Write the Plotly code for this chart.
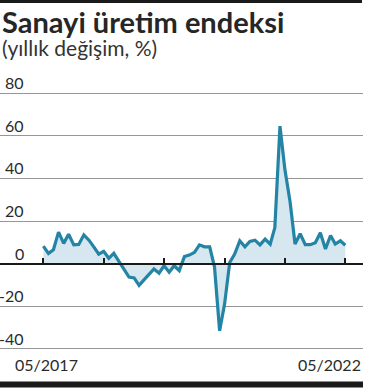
import pandas as pd
import plotly.graph_objects as go

# ---- data ----
start_month = "2017-05-01"
values = [8.2, 4.8, 6.5, 14.8, 9.5, 13.8, 8.8, 9.0, 13.5, 11.0, 8.0, 4.5,
          5.8, 2.5, 4.8, 1.0, -3.3, -6.3, -6.7, -10.2, -7.5, -5.0, -2.5, -4.5,
          -1.0, -4.0, -1.0, -3.3, 3.3, 4.0, 5.3, 8.8, 7.9, 7.9, -1.5, -31.5,
          -19.0, 0.5, 4.5, 10.7, 7.9, 10.4, 11.0, 8.8, 11.5, 9.1, 16.9, 64.5,
          44.0, 29.0, 9.2, 14.0, 8.9, 8.9, 9.8, 14.5, 6.9, 13.2, 9.2, 10.7, 8.6]
months = pd.date_range(start_month, periods=len(values), freq="MS")
y_ticks = [80, 60, 40, 20, 0, -20, -40]
y_tick_labels = ["80", "60", "40", "20", "0", "-20", "-40"]
x_label_first = "05/2017"
x_label_last = "05/2022"
title = "Sanayi üretim endeksi"
subtitle = "(yıllık değişim, %)"

# ---- layout constants ----
W, H = 366, 390
ML, MR, MT, MB = 0, 3, 91, 39
PW, PH = W - ML - MR, H - MT - MB
Y_RANGE = [-41, 81]
FONT = "Lato"
LINE_COLOR = "#2484a5"
FILL_COLOR = "#d7e7f0"
TEXT_COLOR = "#2b2b2b"
RULE_COLOR = "#1a1a1a"


def py(pix):
    return (H - MB - pix) / PH


def px(pix):
    return (pix - ML) / PW


fig = go.Figure()
fig.add_trace(go.Scatter(
    x=months, y=values, mode="lines",
    line=dict(color=LINE_COLOR, width=3.2),
    fill="tozeroy", fillcolor=FILL_COLOR,
    hoverinfo="skip", showlegend=False,
))

zero_pos = (0 - Y_RANGE[0]) / (Y_RANGE[1] - Y_RANGE[0])

fig.update_layout(
    width=W, height=H,
    margin=dict(l=ML, r=MR, t=MT, b=MB, pad=0),
    paper_bgcolor="white", plot_bgcolor="white",
    font=dict(family=FONT, color=TEXT_COLOR),
    xaxis=dict(
        type="date",
        range=["2016-08-12", "2022-08-16"],
        tick0=start_month, dtick="M12",
        ticks="inside", ticklen=5, tickwidth=2, tickcolor=RULE_COLOR,
        showticklabels=False, showgrid=False, zeroline=False,
        showline=True, linecolor=RULE_COLOR, linewidth=2,
        anchor="free", position=zero_pos,
        fixedrange=True,
    ),
    yaxis=dict(
        range=Y_RANGE, tickvals=y_ticks, showticklabels=False,
        showgrid=True, gridcolor="#969696", gridwidth=1,
        zeroline=False, showline=False, ticks="",
        fixedrange=True,
    ),
)

# y tick labels above gridlines
for v, lab in zip(y_ticks, y_tick_labels):
    fig.add_annotation(
        x=px(26), xref="paper", xanchor="right",
        y=v, yref="y", yanchor="bottom", yshift=-1,
        text=lab, showarrow=False,
        font=dict(family=FONT, size=16, color=TEXT_COLOR),
    )

# x labels
fig.add_annotation(
    x=months[0], xref="x", xanchor="center", xshift=3,
    y=py(364), yref="paper", yanchor="middle",
    text=x_label_first, showarrow=False,
    font=dict(family=FONT, size=16, color=TEXT_COLOR),
)
fig.add_annotation(
    x=1, xref="paper", xanchor="right",
    y=py(364), yref="paper", yanchor="middle",
    text=x_label_last, showarrow=False,
    font=dict(family=FONT, size=16, color=TEXT_COLOR),
)

# title & subtitle
fig.add_annotation(
    x=px(1), xref="paper", xanchor="left",
    y=py(21.5), yref="paper", yanchor="middle", borderpad=0,
    text="<b>" + title + "</b>", showarrow=False,
    font=dict(family=FONT, size=29, color="#262626"),
)
fig.add_annotation(
    x=px(1), xref="paper", xanchor="left",
    y=py(47.5), yref="paper", yanchor="middle", borderpad=0,
    text=subtitle, showarrow=False,
    font=dict(family=FONT, size=21, color="#333333"),
)

# top and bottom black rules
fig.add_shape(type="line", xref="paper", yref="paper",
              x0=px(0), x1=px(362), y0=py(1.5), y1=py(1.5),
              line=dict(color=RULE_COLOR, width=3), layer="above")
fig.add_shape(type="line", xref="paper", yref="paper",
              x0=px(0), x1=px(363), y0=py(384.5), y1=py(384.5),
              line=dict(color=RULE_COLOR, width=6), layer="above")

fig.write_html(
    "out.html",
    config={"displayModeBar": False},
    post_script=(
        "document.documentElement.style.margin='0';"
        "document.body.style.margin='0';"
        "document.body.style.overflow='hidden';"
        "window.scrollTo(0,0);"
    ),
)
